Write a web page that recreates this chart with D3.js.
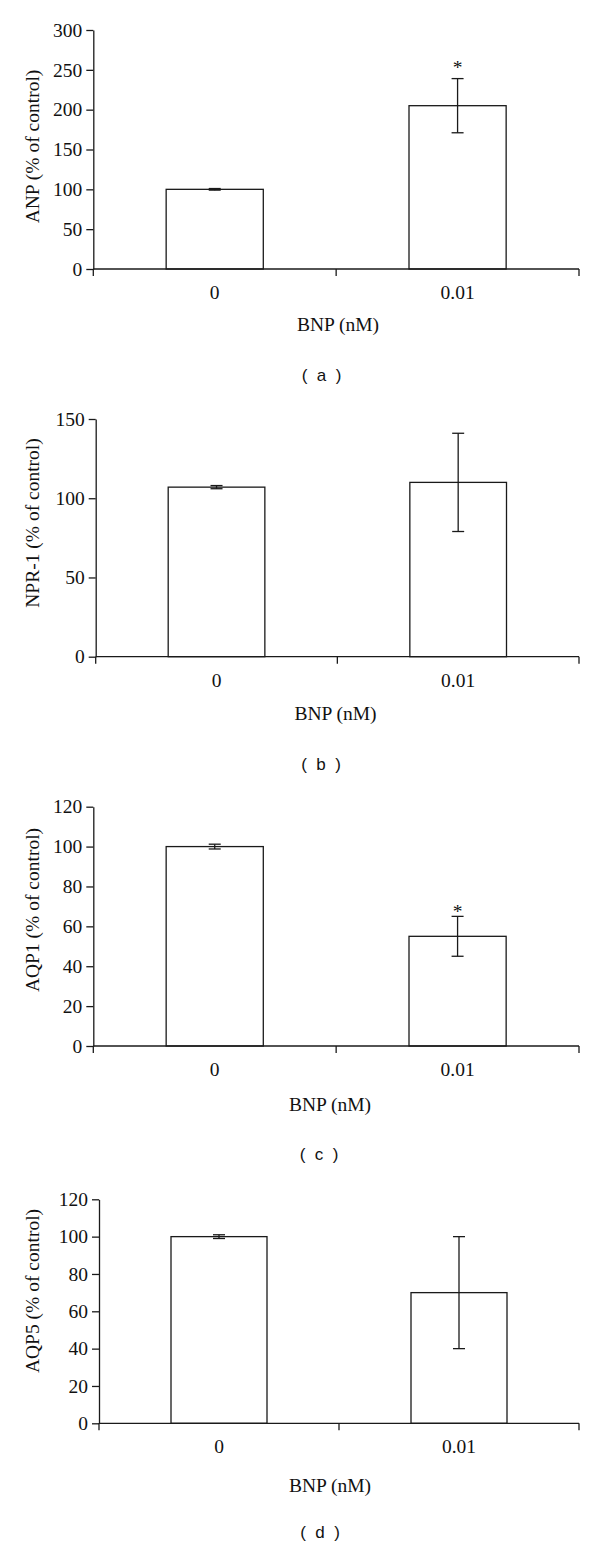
<!DOCTYPE html>
<html>
<head>
<meta charset="utf-8">
<script src="https://cdn.jsdelivr.net/npm/d3@7"></script>
<style>
  html, body { margin: 0; padding: 0; background: #fff; }
  svg { display: block; }
  .serif { font-family: "Liberation Serif", "Times New Roman", serif; fill: #111; }
  .sans { font-family: "Liberation Sans", Arial, sans-serif; fill: #111; white-space: pre; }
</style>
</head>
<body>
<svg id="chart" width="600" height="1544"></svg>
<script>
// ---- data ----
const categories = ["0", "0.01"];
const xTitle = "BNP (nM)";

const anpMean = [100, 205];
const anpErr = [1, 34];
const anpSig = [false, true];
const anpTicks = [0, 50, 100, 150, 200, 250, 300];

const npr1Mean = [107, 110];
const npr1Err = [1, 31];
const npr1Sig = [false, false];
const npr1Ticks = [0, 50, 100, 150];

const aqp1Mean = [100, 55];
const aqp1Err = [1.2, 10];
const aqp1Sig = [false, true];
const aqp1Ticks = [0, 20, 40, 60, 80, 100, 120];

const aqp5Mean = [100, 70];
const aqp5Err = [1, 30];
const aqp5Sig = [false, false];
const aqp5Ticks = [0, 20, 40, 60, 80, 100, 120];

const yTitles = ["ANP (% of control)", "NPR-1 (% of control)", "AQP1 (% of control)", "AQP5 (% of control)"];
const panelLetters = ["a", "b", "c", "d"];

// ---- layout (positions only) ----
const layout = [
  { left: 93.3, right: 579, top: 30,    bottom: 269,    yLabY: 146.5, xLabX: 338,   xLabDy: 55, letX: 321.5, letDy: 106, starGap: 14 },
  { left: 95.7, right: 579, top: 419,   bottom: 656.7,  yLabY: 523,   xLabX: 335.5, xLabDy: 56, letX: 321,   letDy: 107, starGap: 6 },
  { left: 93.3, right: 579, top: 806.7, bottom: 1046,   yLabY: 910,   xLabX: 330,   xLabDy: 58, letX: 319,   letDy: 108, starGap: 7 },
  { left: 99,   right: 579, top: 1199.3,bottom: 1423.3, yLabY: 1291,  xLabX: 330,   xLabDy: 62, letX: 320,   letDy: 109, starGap: 6 }
];

const panelsData = [
  { mean: anpMean,  err: anpErr,  sig: anpSig,  ticks: anpTicks },
  { mean: npr1Mean, err: npr1Err, sig: npr1Sig, ticks: npr1Ticks },
  { mean: aqp1Mean, err: aqp1Err, sig: aqp1Sig, ticks: aqp1Ticks },
  { mean: aqp5Mean, err: aqp5Err, sig: aqp5Sig, ticks: aqp5Ticks }
];

const svg = d3.select("#chart");
const ink = "#1a1a1a";
const sw = 1.3;
const fontSize = 19.5;

panelsData.forEach((pd, i) => {
  const L = layout[i];
  const g = svg.append("g");

  const x = d3.scaleBand()
    .domain(categories)
    .range([L.left, L.right])
    .paddingInner(0.6)
    .paddingOuter(0.3);

  const y = d3.scaleLinear()
    .domain([0, d3.max(pd.ticks)])
    .range([L.bottom, L.top]);

  // bars
  g.selectAll("rect.bar")
    .data(categories)
    .join("rect")
    .attr("x", d => x(d))
    .attr("y", (d, j) => y(pd.mean[j]))
    .attr("width", x.bandwidth())
    .attr("height", (d, j) => y(0) - y(pd.mean[j]))
    .attr("fill", "#fff")
    .attr("stroke", ink)
    .attr("stroke-width", sw);

  // error bars
  const capW = 6;
  categories.forEach((c, j) => {
    const cx = x(c) + x.bandwidth() / 2;
    const hi = y(pd.mean[j] + pd.err[j]);
    const lo = y(pd.mean[j] - pd.err[j]);
    g.append("line").attr("x1", cx).attr("x2", cx).attr("y1", hi).attr("y2", lo)
      .attr("stroke", ink).attr("stroke-width", sw);
    g.append("line").attr("x1", cx - capW).attr("x2", cx + capW).attr("y1", hi).attr("y2", hi)
      .attr("stroke", ink).attr("stroke-width", sw);
    g.append("line").attr("x1", cx - capW).attr("x2", cx + capW).attr("y1", lo).attr("y2", lo)
      .attr("stroke", ink).attr("stroke-width", sw);
    if (pd.sig[j]) {
      g.append("text").attr("class", "serif")
        .attr("x", cx).attr("y", hi - L.starGap + 9)
        .attr("text-anchor", "middle")
        .attr("font-size", fontSize)
        .text("*");
    }
  });

  // y axis
  const yAxis = d3.axisLeft(y)
    .tickValues(pd.ticks)
    .tickSize(7)
    .tickSizeOuter(0)
    .tickPadding(4)
    .tickFormat(d3.format("d"));
  const ya = g.append("g").attr("transform", `translate(${L.left},0)`).call(yAxis);
  ya.selectAll("path, line").attr("stroke", ink).attr("stroke-width", sw);
  ya.selectAll("text").attr("class", "serif").attr("font-size", fontSize).attr("fill", ink);

  // x axis: line + boundary ticks
  const step = x.step();
  const bounds = d3.range(categories.length + 1).map(k => x.range()[0] + k * step);
  g.append("line").attr("x1", L.left).attr("x2", L.right).attr("y1", y(0)).attr("y2", y(0))
    .attr("stroke", ink).attr("stroke-width", sw);
  g.selectAll("line.xt").data(bounds).join("line")
    .attr("x1", d => d).attr("x2", d => d)
    .attr("y1", y(0)).attr("y2", y(0) + 7)
    .attr("stroke", ink).attr("stroke-width", sw);
  // category labels
  g.selectAll("text.xl").data(categories).join("text")
    .attr("class", "serif")
    .attr("x", d => x(d) + x.bandwidth() / 2)
    .attr("y", y(0) + 23)
    .attr("dy", "0.35em")
    .attr("text-anchor", "middle")
    .attr("font-size", fontSize)
    .text(d => d);

  // x title
  g.append("text").attr("class", "serif")
    .attr("x", L.xLabX).attr("y", y(0) + L.xLabDy)
    .attr("dy", "0.35em")
    .attr("text-anchor", "middle")
    .attr("font-size", fontSize)
    .text(xTitle);

  // y title
  g.append("text").attr("class", "serif")
    .attr("transform", `translate(32,${L.yLabY}) rotate(-90)`)
    .attr("dy", "0.35em")
    .attr("text-anchor", "middle")
    .attr("font-size", fontSize)
    .text(yTitles[i]);

  // panel letter
  g.append("text").attr("class", "sans")
    .attr("x", L.letX).attr("y", y(0) + L.letDy)
    .attr("dy", "0.35em")
    .attr("text-anchor", "middle")
    .attr("font-size", 17)
    .text("(  " + panelLetters[i] + "  )");
});
</script>
</body>
</html>
